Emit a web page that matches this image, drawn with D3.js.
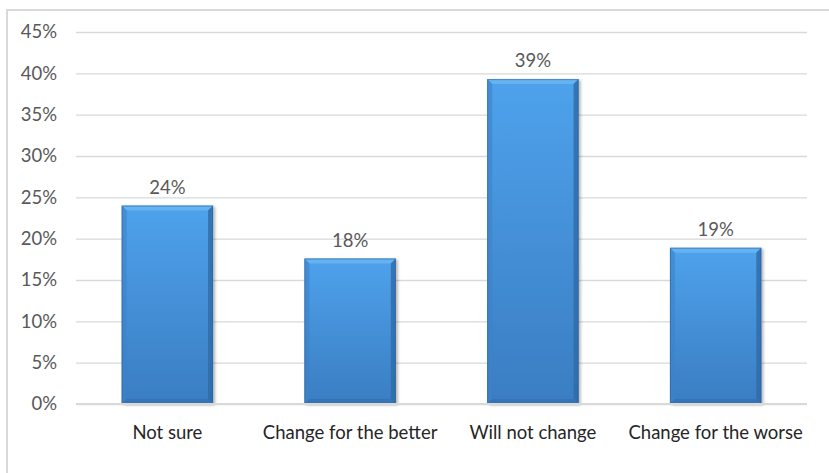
<!DOCTYPE html>
<html>
<head>
<meta charset="utf-8">
<script src="https://cdn.jsdelivr.net/npm/d3@7/dist/d3.min.js"></script>
<style>
  html, body { margin: 0; padding: 0; background: #fff; }
  svg { display: block; }
  text { font-family: "Lato", "Open Sans", sans-serif; }
</style>
</head>
<body>
<svg id="chart" width="829" height="473"></svg>
<script>
// Survey answers and their shares
const categories = ["Not sure", "Change for the better", "Will not change", "Change for the worse"];
const shares = [0.24, 0.176, 0.393, 0.189];
const yTicks = [0, 0.05, 0.10, 0.15, 0.20, 0.25, 0.30, 0.35, 0.40, 0.45];

const svg = d3.select("#chart");
const W = 829, H = 473;
const plot = { left: 76, right: 807, top: 32, bottom: 404 };
const fontSize = 18.5;

// Outer frame
svg.append("path")
  .attr("d", `M7,${H} L7,10 L${W},10`)
  .attr("fill", "none").attr("stroke", "#d9d9d9").attr("stroke-width", 2);

const x = d3.scaleBand().domain(categories).range([plot.left, plot.right]).paddingInner(0.5).paddingOuter(0.25);
const y = d3.scaleLinear().domain([0, 0.45]).range([plot.bottom, plot.top]);

const defs = svg.append("defs");
const body = defs.append("linearGradient").attr("id", "barBody").attr("x1", 0).attr("y1", 0).attr("x2", 0).attr("y2", 1);
body.append("stop").attr("offset", "0%").attr("stop-color", "#4ea2ec");
body.append("stop").attr("offset", "100%").attr("stop-color", "#3a7dc2");
const shade = defs.append("filter").attr("id", "shadow").attr("x", "-10%").attr("y", "-10%").attr("width", "130%").attr("height", "130%");
shade.append("feGaussianBlur").attr("in", "SourceAlpha").attr("stdDeviation", 1.5);
shade.append("feOffset").attr("dx", 2).attr("dy", 1).attr("result", "b");
shade.append("feComponentTransfer").append("feFuncA").attr("type", "linear").attr("slope", 0.3);
const merge = shade.append("feMerge");
merge.append("feMergeNode");
merge.append("feMergeNode").attr("in", "SourceGraphic");

// Gridlines and y axis
const yAxis = d3.axisLeft(y).tickValues(yTicks).tickFormat(d3.format(".0%")).tickSize(-(plot.right - plot.left)).tickPadding(19);
const gy = svg.append("g").attr("transform", `translate(${plot.left},0)`).call(yAxis);
gy.select(".domain").remove();
gy.selectAll(".tick line").attr("stroke", "#d9d9d9").attr("stroke-width", 1.3);
gy.selectAll(".tick text").attr("fill", "#595959").attr("font-size", fontSize);

// Bars with bevelled edges
const bw = x.bandwidth();
const bars = svg.append("g").selectAll("g").data(categories).join("g")
  .attr("transform", d => `translate(${x(d)},0)`);
const bev = 5;
bars.each(function(d, i) {
  const g = d3.select(this);
  const top = y(shares[i]), bot = y(0), h = bot - top;
  g.append("rect").attr("x", 0).attr("y", top).attr("width", bw).attr("height", h)
    .attr("fill", "url(#barBody)").attr("filter", "url(#shadow)");
  // top bevel
  g.append("path").attr("d", `M0,${top} L${bw},${top} L${bw - bev},${top + bev} L${bev},${top + bev} Z`).attr("fill", "#6fb8f3").attr("opacity", 0.75);
  // left bevel
  g.append("path").attr("d", `M0,${top} L${bev},${top + bev} L${bev},${bot - bev} L0,${bot} Z`).attr("fill", "#3d82c8").attr("opacity", 0.6);
  // right bevel
  g.append("path").attr("d", `M${bw},${top} L${bw},${bot} L${bw - bev},${bot - bev} L${bw - bev},${top + bev} Z`).attr("fill", "#2f6aa6").attr("opacity", 0.8);
  // bottom bevel
  g.append("path").attr("d", `M0,${bot} L${bw},${bot} L${bw - bev},${bot - bev} L${bev},${bot - bev} Z`).attr("fill", "#336fae").attr("opacity", 0.7);
  g.append("rect").attr("x", 0.5).attr("y", top + 0.5).attr("width", bw - 1).attr("height", h - 1)
    .attr("fill", "none").attr("stroke", "#2d6199").attr("stroke-width", 1).attr("opacity", 0.55);
});

// Baseline
svg.append("line").attr("x1", plot.left).attr("x2", plot.right).attr("y1", y(0)).attr("y2", y(0))
  .attr("stroke", "#d9d9d9").attr("stroke-width", 2);

// Value labels
svg.append("g").selectAll("text").data(categories).join("text")
  .attr("x", d => x(d) + bw / 2)
  .attr("y", (d, i) => y(shares[i]) - 12)
  .attr("text-anchor", "middle").attr("fill", "#595959").attr("font-size", fontSize)
  .text((d, i) => d3.format(".0%")(shares[i]));

// Category axis
const xAxis = d3.axisBottom(x).tickSize(0).tickPadding(22);
const gx = svg.append("g").attr("transform", `translate(0,${plot.bottom})`).call(xAxis);
gx.select(".domain").remove();
gx.selectAll(".tick text").attr("fill", "#262626").attr("font-size", fontSize);
</script>
</body>
</html>
